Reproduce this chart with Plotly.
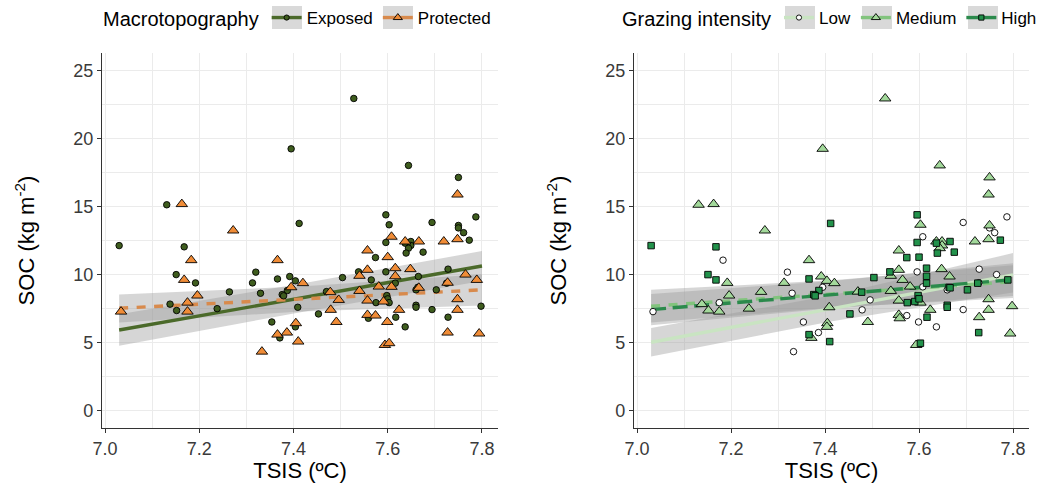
import numpy as np
import plotly.graph_objects as go

# ---------------- data ----------------
tsis = [7.030, 7.131, 7.163, 7.395, 7.272, 7.168, 7.412, 7.528, 7.644, 7.750,
        7.748, 7.787, 7.596, 7.603, 7.694, 7.750, 7.750, 7.761, 7.773, 7.748,
        7.719, 7.666, 7.608, 7.596, 7.637, 7.637, 7.649, 7.649, 7.644, 7.639,
        7.675, 7.557, 7.574, 7.600, 7.183, 7.151, 7.168, 7.192, 7.196, 7.264,
        7.138, 7.175, 7.152, 7.175, 7.034, 7.238, 7.320, 7.313, 7.330, 7.366,
        7.366, 7.392, 7.404, 7.395, 7.387, 7.376, 7.379, 7.409, 7.354, 7.405,
        7.404, 7.366, 7.371, 7.386, 7.410, 7.333, 7.616, 7.648, 7.557, 7.538,
        7.540, 7.504, 7.565, 7.596, 7.616, 7.665, 7.728, 7.765, 7.789, 7.420,
        7.725, 7.727, 7.616, 7.581, 7.608, 7.664, 7.666, 7.660, 7.703, 7.540,
        7.470, 7.478, 7.496, 7.557, 7.575, 7.591, 7.598, 7.600, 7.603, 7.748,
        7.798, 7.660, 7.660, 7.624, 7.479, 7.748, 7.694, 7.453, 7.491, 7.557,
        7.559, 7.574, 7.617, 7.599, 7.728, 7.637, 7.727, 7.794, 7.594, 7.603]
soc = [12.15, 15.15, 15.20, 19.26, 13.26, 12.06, 13.78, 22.96, 18.04, 17.16,
       15.90, 14.26, 14.41, 13.68, 13.85, 13.63, 13.45, 13.10, 12.55, 12.62,
       12.45, 12.45, 12.80, 12.38, 12.45, 12.33, 12.45, 12.16, 11.96, 11.60,
       11.67, 11.79, 11.27, 11.30, 11.08, 10.02, 9.63, 9.41, 8.48, 8.75,
       7.85, 7.96, 7.38, 7.30, 7.30, 7.52, 10.20, 9.41, 8.65, 9.70,
       11.08, 9.88, 9.56, 9.09, 8.85, 8.55, 8.46, 7.62, 6.54, 6.45,
       6.18, 5.61, 5.37, 5.76, 5.10, 4.36, 10.49, 10.42, 10.37, 10.22,
       9.93, 9.80, 9.63, 10.22, 9.90, 9.88, 10.42, 10.02, 9.63, 9.39,
       9.39, 9.42, 9.39, 9.14, 9.12, 9.09, 9.05, 8.90, 8.90, 8.82,
       8.77, 8.73, 8.16, 8.11, 7.96, 8.04, 8.48, 8.24, 7.96, 8.21,
       7.70, 7.77, 7.62, 7.43, 7.43, 7.43, 7.45, 7.13, 6.54, 7.06,
       6.81, 7.01, 6.89, 6.54, 6.89, 6.18, 5.76, 5.69, 4.85, 4.98]
topo = list("EEPEPEEEEE" "PEEEEEEEEP" "PPPEPEEEEE" "EPEPPEPEPE"
            "EPEPPEEEEE" "PEEPEEEEEP" "EPEPPPPPPE" "PEEEPEEPPP"
            "EPEPPEPEEP" "EPPPEPEEEP" "EEEPPPEEPP" "EPEPEEPPPP")
grazing = list("HMMMMHHMMM" "MLHMLMLLHM" "MHLHMHMMMH" "HMHHLHHMMM"
               "MLMMLMLMLH" "MMMLHHHMLM" "MHMLHLHMMH" "MHMLHMLLHM"
               "HLHMLHHLHM" "MHLMHHHHMM" "MHHMLMLHMM" "MLHLMLHMMH")

topo_names = {"E": "Exposed", "P": "Protected"}
graz_names = {"L": "Low", "M": "Medium", "H": "High"}

# model predictions and 95% bands at these TSIS values
pred_x = [7.03, 7.415, 7.80]
pred_fit = {
    "E": [5.95, 8.30, 10.65],
    "P": [7.55, 8.22, 8.90],
    "L": [5.05, 7.55, 10.00],
    "M": [7.70, 8.60, 9.50],
    "H": [7.45, 8.55, 9.65],
}
pred_lo = {
    "E": [4.80, 7.25, 9.55],
    "P": [6.50, 7.30, 7.75],
    "L": [4.00, 6.60, 8.70],
    "M": [6.50, 7.60, 8.30],
    "H": [6.30, 7.55, 8.45],
}
pred_hi = {
    "E": [7.10, 9.35, 11.75],
    "P": [8.55, 9.15, 10.05],
    "L": [6.10, 8.50, 11.60],
    "M": [8.90, 9.60, 10.70],
    "H": [8.60, 9.55, 10.85],
}

x_ticks = [7.0, 7.2, 7.4, 7.6, 7.8]
x_tick_text = ["7.0", "7.2", "7.4", "7.6", "7.8"]
y_ticks = [0, 5, 10, 15, 20, 25]

# ---------------- styles ----------------
FONT = "Liberation Sans, Arial, sans-serif"
BAND = "rgba(153,153,153,0.4)"
topo_style = {
    "E": dict(symbol="circle", size=6.5, fill="#3f5d1e", line="#4b6a2a", dash="solid"),
    "P": dict(symbol="triangle-up", size=10, fill="#f08c37", line="#d88a4c", dash="9px,8.5px"),
}
graz_style = {
    "L": dict(symbol="circle", size=6.5, fill="#ffffff", line="#c9e4c2", dash="solid"),
    "M": dict(symbol="triangle-up", size=10, fill="#a3d99b", line="#82c47d", dash="9px,8.5px"),
    "H": dict(symbol="square", size=6.5, fill="#22924b", line="#2b8a4c", dash="15px,6.6px"),
}

fig = go.Figure()


def add_panel(groups, order, names, styles, xa, ya, legend):
    px = np.array(pred_x)
    for g in order:
        lo = np.array(pred_lo[g])
        hi = np.array(pred_hi[g])
        fig.add_trace(go.Scatter(
            x=np.concatenate([px, px[::-1]]), y=np.concatenate([hi, lo[::-1]]),
            fill="toself", fillcolor=BAND, line=dict(width=0), mode="lines",
            hoverinfo="skip", showlegend=False, xaxis=xa, yaxis=ya))
    for g in order:
        st = styles[g]
        fig.add_trace(go.Scatter(
            x=pred_x, y=pred_fit[g], mode="lines",
            line=dict(color=st["line"], width=3.4, dash=st["dash"]),
            showlegend=False, hoverinfo="skip", xaxis=xa, yaxis=ya))
    for g in order:
        xs = [tsis[i] for i in range(len(tsis)) if groups[i] == g]
        ys = [soc[i] for i in range(len(tsis)) if groups[i] == g]
        st = styles[g]
        fig.add_trace(go.Scatter(
            x=xs, y=ys, mode="markers", name=names[g],
            marker=dict(symbol=st["symbol"], size=st["size"], color=st["fill"],
                        line=dict(color="#000000", width=0.9)),
            showlegend=False, xaxis=xa, yaxis=ya))
    for g in order:
        st = styles[g]
        fig.add_trace(go.Scatter(
            x=[None], y=[None], mode="lines+markers", name=names[g],
            line=dict(color=st["line"], width=3.4, dash="solid"),
            marker=dict(symbol=st["symbol"], size=st["size"] * 0.8, color=st["fill"],
                        line=dict(color="#000000", width=0.9)),
            legend=legend, xaxis=xa, yaxis=ya))


add_panel(topo, ["E", "P"], topo_names, topo_style, "x", "y", "legend")
add_panel(grazing, ["L", "M", "H"], graz_names, graz_style, "x2", "y2", "legend2")

W, H = 1047, 483
xr = [6.9936, 7.834]
yr = [-1.25, 26.3]
ytop, ybot = 53, 428

axis_common = dict(
    showline=True, linecolor="#333333", linewidth=1.2, mirror=False,
    ticks="outside", ticklen=4, tickcolor="#333333", tickwidth=1,
    showgrid=True, gridcolor="#ebebeb", gridwidth=1, zeroline=False,
    tickfont=dict(family=FONT, size=18, color="#3a3a3a"),
    automargin=False,
)

xaxis_kw = dict(axis_common, range=xr, tickvals=x_ticks, ticktext=x_tick_text,
                minor=dict(dtick=0.1, tick0=7.0, showgrid=True, gridcolor="#ebebeb", ticklen=0),
                title=dict(text="TSIS (ºC)", font=dict(family=FONT, size=22, color="#000000"), standoff=3))
yaxis_kw = dict(axis_common, range=yr, tickvals=y_ticks,
                minor=dict(dtick=2.5, tick0=0, showgrid=True, gridcolor="#ebebeb", ticklen=0),
                title=dict(text="SOC (kg m<sup>-2</sup>)", font=dict(family=FONT, size=22, color="#000000"), standoff=32))

# grey key backgrounds behind the legend symbols (as in ggplot legend keys)
key_centers = [287, 398, 800, 877, 983]
shapes = [dict(type="rect", xref="paper", yref="paper", layer="below",
               x0=(c - 15) / W, x1=(c + 15) / W, y0=1 - 29 / H, y1=1 - 6 / H,
               fillcolor="#d9d9d9", line=dict(width=0)) for c in key_centers]

fig.update_layout(
    width=W, height=H,
    margin=dict(l=0, r=0, t=0, b=0),
    paper_bgcolor="white", plot_bgcolor="white",
    font=dict(family=FONT, color="#000000"),
    xaxis=dict(xaxis_kw, domain=[102 / W, 498 / W], anchor="y"),
    yaxis=dict(yaxis_kw, domain=[1 - ybot / H, 1 - ytop / H], anchor="x"),
    xaxis2=dict(xaxis_kw, domain=[634 / W, 1029 / W], anchor="y2"),
    yaxis2=dict(yaxis_kw, domain=[1 - ybot / H, 1 - ytop / H], anchor="x2"),
    legend=dict(orientation="h", x=101 / W, y=1.0, xanchor="left", yanchor="top",
                title=dict(text="Macrotopography", font=dict(family=FONT, size=20)),
                font=dict(family=FONT, size=17), bgcolor="rgba(0,0,0,0)"),
    legend2=dict(orientation="h", x=620 / W, y=1.0, xanchor="left", yanchor="top",
                 title=dict(text="Grazing intensity", font=dict(family=FONT, size=20)),
                 font=dict(family=FONT, size=17), bgcolor="rgba(0,0,0,0)"),
    shapes=shapes,
    showlegend=True,
)

fig.write_html("out.html", config={"displayModeBar": False},
               post_script="document.body.style.margin='0px';")
